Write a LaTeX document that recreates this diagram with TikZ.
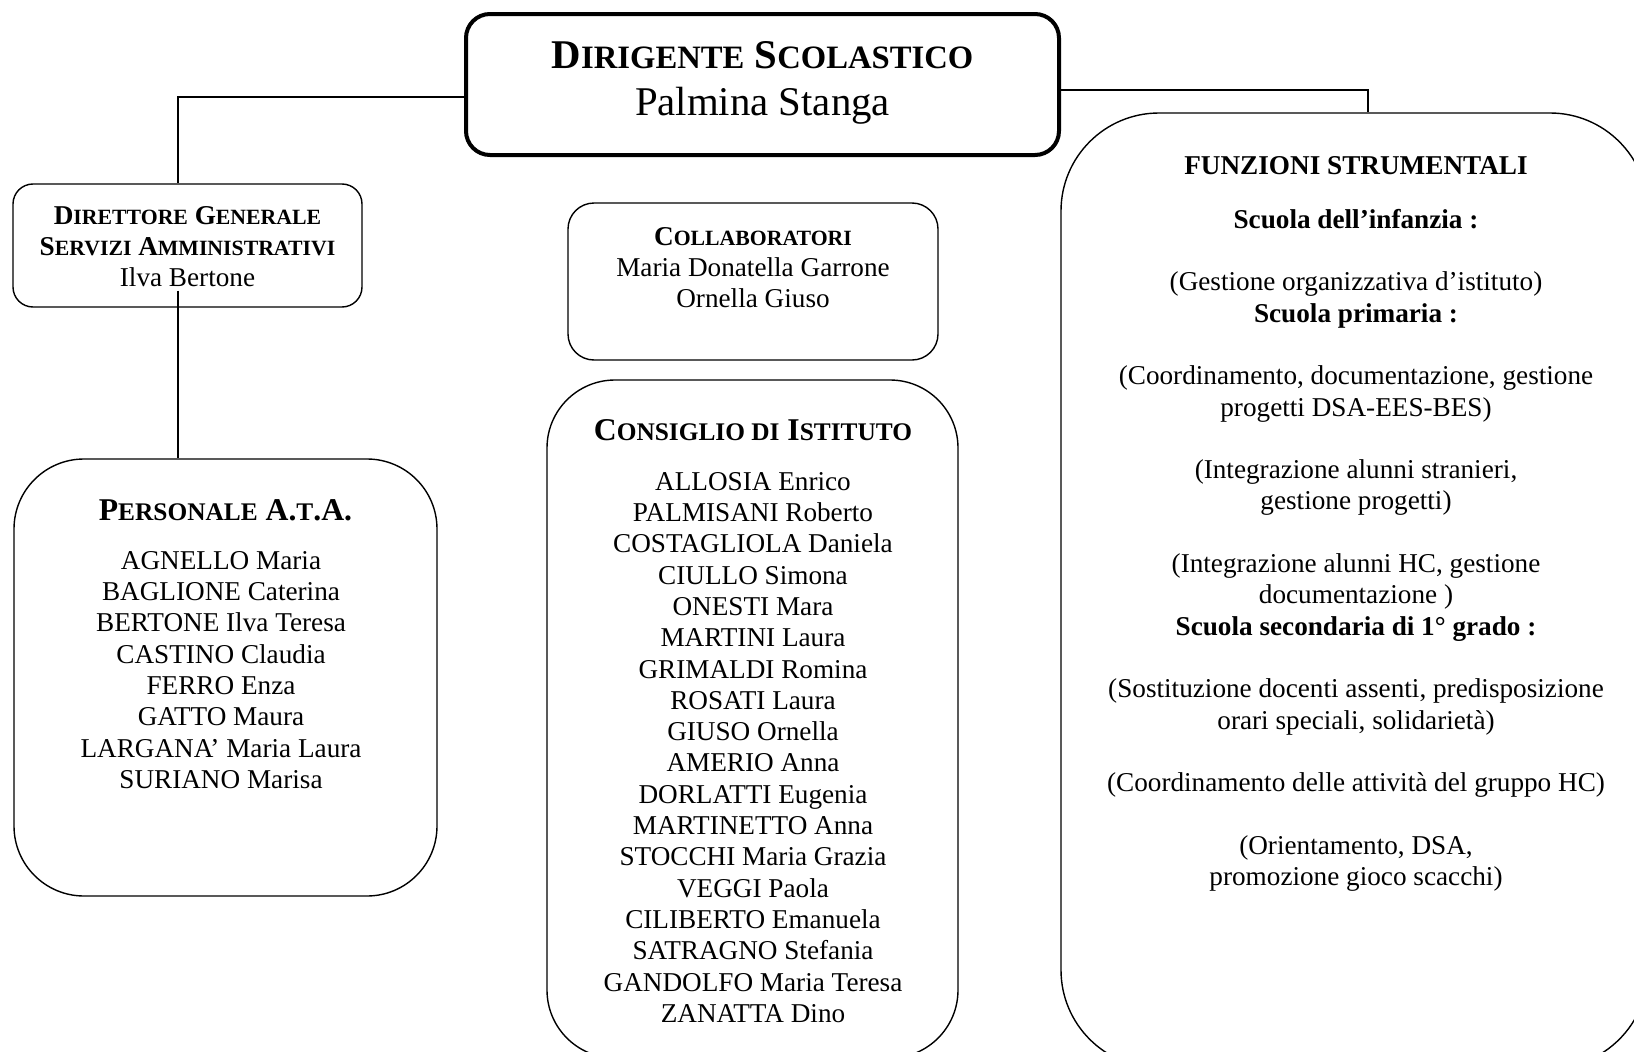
\documentclass[tikz,border=0pt]{standalone}
\usepackage{fontspec}
\setmainfont{Liberation Serif}
\usepackage{graphicx}
\usetikzlibrary{matrix,positioning}

\newcommand\sml[1]{\scalebox{0.8}{#1}}
\newcommand\bodyfont{\fontsize{27.2}{31.3}\selectfont}
\newcommand\headfont{\fontsize{31.7}{36.5}\selectfont\bfseries}
\newcommand\titlefont{\fontsize{40.8}{46.9}\selectfont}

\tikzset{
  box/.style={draw, line width=1.4pt, inner sep=0pt, rounded corners=#1},
  conn/.style={draw, line width=1.2pt},
  head/.style={anchor=base, inner sep=0pt, font=\headfont},
  names/.style={matrix of nodes, inner sep=0pt, anchor=north,
    nodes={inner sep=0pt, font=\bodyfont, text height=21.9pt, text depth=9.4pt}},
}

\begin{document}
\begin{tikzpicture}[x=1pt,y=-1pt]
\useasboundingbox (0,0) rectangle (1634,1052);
\clip (0,0) rectangle (1634,1052);

% boxes
\node[box=24pt, line width=4pt, minimum width=593pt, minimum height=141pt] (dir) at (762.5,84.5) {};
\node[box=20pt, minimum width=349pt, minimum height=123pt] (dsga) at (187.5,245.5) {};
\node[box=26pt, minimum width=370pt, minimum height=157pt] (coll) at (753,281.5) {};
\node[box=70pt, minimum width=423pt, minimum height=437pt] (ata) at (225.5,677.5) {};
\node[box=68pt, minimum width=411pt, minimum height=678pt] (cons) at (752.5,719) {};
\node[box=98pt, minimum width=587pt, minimum height=955pt] (fs) at (1354.5,590.5) {};

% texts
\matrix (dir-txt) [names, nodes={font=\titlefont, text height=32.8pt, text depth=14.1pt}] at (762.5,35.2) {
  \textbf{D\sml{IRIGENTE} S\sml{COLASTICO}}\\
  Palmina Stanga\\
};
\matrix (dsga-txt) [names] at (187.5,202.1) {
  \textbf{D\sml{IRETTORE} G\sml{ENERALE}}\\
  \textbf{S\sml{ERVIZI} A\sml{MMINISTRATIVI}}\\
  Ilva Bertone\\
};
\matrix (coll-txt) [names] at (753,223.1) {
  \textbf{C\sml{OLLABORATORI}}\\
  Maria Donatella Garrone\\
  Ornella Giuso\\
};

\node[head] (ata-head) at (225.5,520) {P\sml{ERSONALE} A.\sml{T}.A.};
\matrix (ata-list) [names] at (221,547.1) {
  AGNELLO Maria\\
  BAGLIONE Caterina\\
  BERTONE Ilva Teresa\\
  CASTINO Claudia\\
  FERRO Enza\\
  GATTO Maura\\
  LARGANA’ Maria Laura\\
  SURIANO Marisa\\
};

\node[head] (cons-head) at (753,440) {C\sml{ONSIGLIO DI} I\sml{STITUTO}};
\matrix (cons-list) [names] at (753,468.1) {
  ALLOSIA Enrico\\
  PALMISANI Roberto\\
  COSTAGLIOLA Daniela\\
  CIULLO Simona\\
  ONESTI Mara\\
  MARTINI Laura\\
  GRIMALDI Romina\\
  ROSATI Laura\\
  GIUSO Ornella\\
  AMERIO Anna\\
  DORLATTI Eugenia\\
  MARTINETTO Anna\\
  STOCCHI Maria Grazia\\
  VEGGI Paola\\
  CILIBERTO Emanuela\\
  SATRAGNO Stefania\\
  GANDOLFO Maria Teresa\\
  ZANATTA Dino\\
};

\node[head, font=\bodyfont\bfseries] (fs-head) at (1356,174) {FUNZIONI STRUMENTALI};
\matrix (fs-list) [names] at (1356,206.1) {
  \textbf{Scuola dell’infanzia :}\\[31.3pt]
  (Gestione organizzativa d’istituto)\\
  \textbf{Scuola primaria :}\\[31.3pt]
  (Coordinamento, documentazione, gestione\\
  progetti DSA-EES-BES)\\[31.3pt]
  (Integrazione alunni stranieri,\\
  gestione progetti)\\[31.3pt]
  (Integrazione alunni HC, gestione\\
  documentazione )\\
  \textbf{Scuola secondaria di 1° grado :}\\[31.3pt]
  (Sostituzione docenti assenti, predisposizione\\
  orari speciali, solidarietà)\\[31.3pt]
  (Coordinamento delle attività del gruppo HC)\\[31.3pt]
  (Orientamento, DSA,\\
  promozione gioco scacchi)\\
};

% connectors
\draw[conn] ([yshift=-12.5pt]dir.west) -| ([xshift=-9.5pt]dsga.north);
\draw[conn] ([xshift=-9.5pt,yshift=17pt]dsga.south) -- ([xshift=-47.5pt]ata.north);
\draw[conn] ([yshift=-5.5pt]dir.east) -| ([xshift=13.5pt]fs.north);
\end{tikzpicture}
\end{document}
